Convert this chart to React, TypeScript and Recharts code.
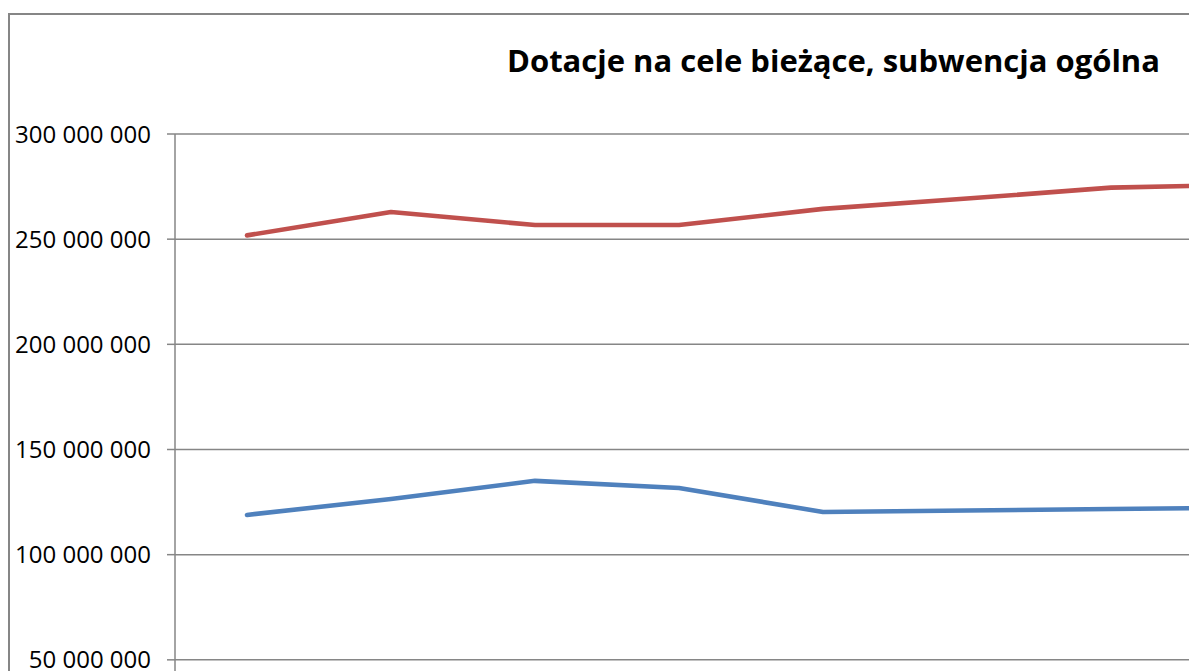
import { LineChart, Line, XAxis, YAxis, CartesianGrid } from 'recharts'

const years = ['2007', '2008', '2009', '2010', '2011', '2012', '2013', '2014']
const dotacje = [251800000, 262900000, 256700000, 256700000, 264400000, 269300000, 274500000, 276000000]
const subwencja = [118900000, 126500000, 135100000, 131700000, 120300000, 121000000, 121700000, 122400000]
const yTicks = [0, 50000000, 100000000, 150000000, 200000000, 250000000, 300000000]

const data = years.map((year, i) => ({
  year,
  dotacje: dotacje[i],
  subwencja: subwencja[i],
}))

const gray = '#868686'
const font = '"Open Sans", sans-serif'

const fmt = (v: number) => String(v).replace(/\B(?=(\d{3})+(?!\d))/g, ' ')

export default function App() {
  return (
    <div style={{ position: 'fixed', left: 0, top: 0, width: 1189, height: 671, overflow: 'hidden', background: '#fff' }}>
      <div
        style={{
          position: 'absolute',
          left: 8,
          top: 13,
          width: 1700,
          height: 900,
          border: `2px solid ${gray}`,
        }}
      >
        <LineChart
          width={1337}
          height={800}
          data={data}
          margin={{ top: 119, right: 20, bottom: 10, left: 0 }}
        >
          <CartesianGrid vertical={false} stroke={gray} strokeWidth={1.5} />
          {/* category labels sit below the visible crop */}
          <XAxis
            dataKey="year"
            padding={{ left: 72, right: 72 }}
            stroke={gray}
            tick={false}
            height={40}
          />
          <YAxis
            domain={[0, 300000000]}
            ticks={yTicks}
            width={165}
            tickSize={8}
            tickMargin={16}
            stroke={gray}
            strokeWidth={1.5}
            tickFormatter={fmt}
            tick={{ fill: '#000', fontSize: 24, fontFamily: font }}
          />
          <Line
            dataKey="dotacje"
            stroke="#C0504D"
            strokeWidth={4.6}
            strokeLinecap="round"
            strokeLinejoin="round"
            dot={false}
            isAnimationActive={false}
          />
          <Line
            dataKey="subwencja"
            stroke="#4F81BD"
            strokeWidth={4.6}
            strokeLinecap="round"
            strokeLinejoin="round"
            dot={false}
            isAnimationActive={false}
          />
        </LineChart>
      </div>
      <div
        style={{
          position: 'absolute',
          left: 507,
          top: 39,
          fontFamily: font,
          fontWeight: 'bold',
          fontSize: 31,
          lineHeight: '42px',
          whiteSpace: 'nowrap',
          color: '#000',
        }}
      >
        Dotacje na cele bieżące, subwencja ogólna
      </div>
    </div>
  )
}
